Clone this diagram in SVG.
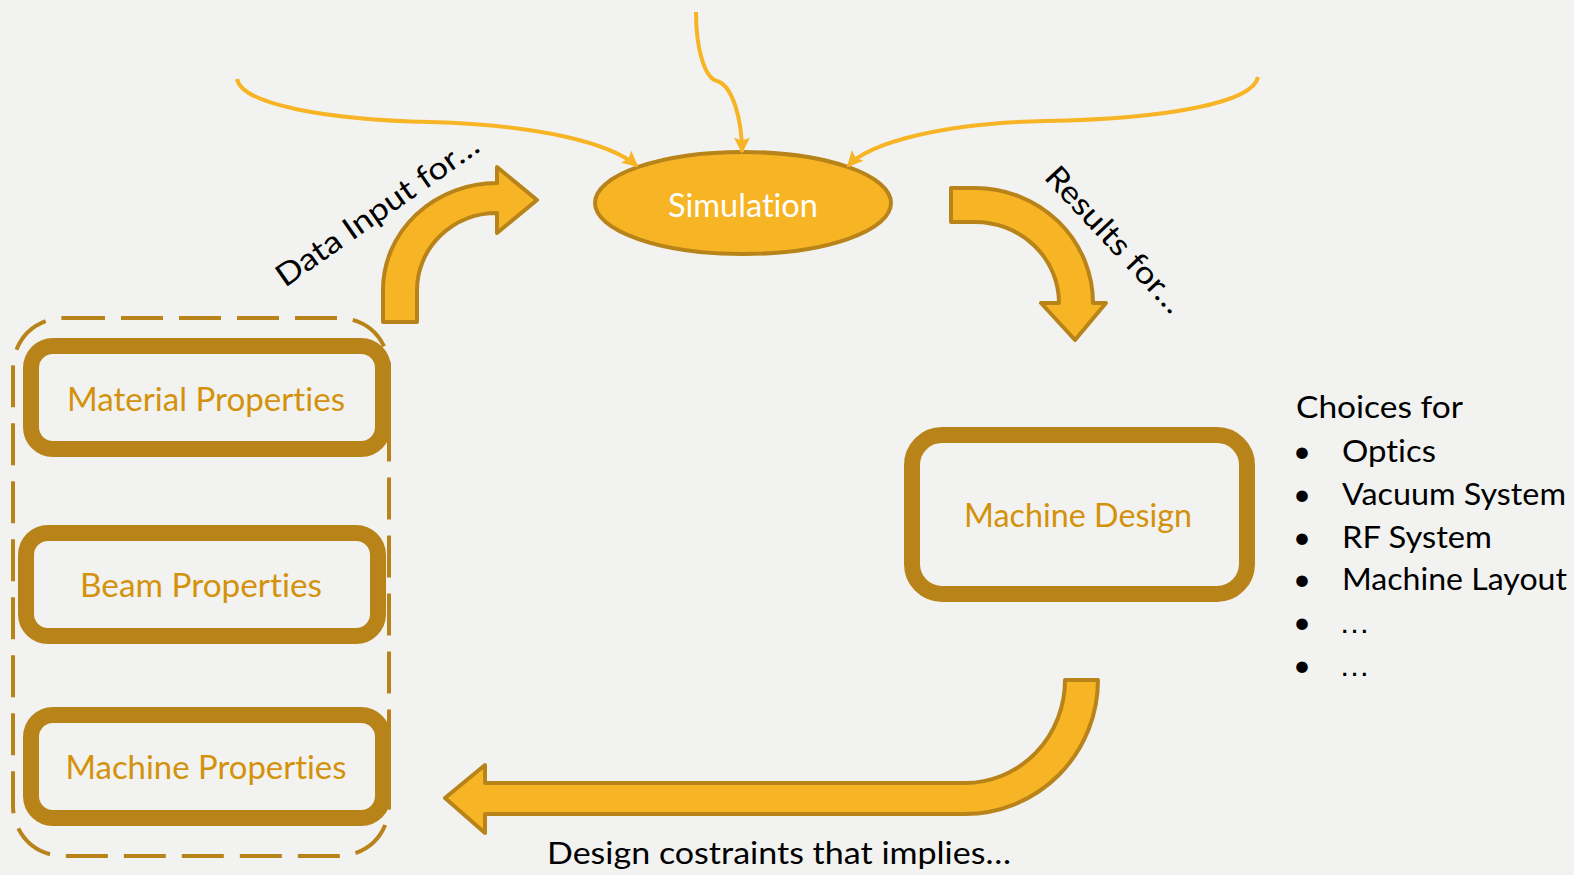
<svg xmlns="http://www.w3.org/2000/svg" width="1574" height="875" viewBox="0 0 1574 875">
<defs>
<style>
text{font-variant-ligatures:none}
.bg{fill:#F2F2F0}
.box{fill:none;stroke:#B8841A;stroke-width:16}
.lbl{font-family:Lato,"Liberation Sans",sans-serif;font-size:32px;fill:#D4920C;text-anchor:middle}
.txt{font-family:Lato,"Liberation Sans",sans-serif;font-size:31px;fill:#000}
.ell{font-family:"Liberation Sans",sans-serif}
.big{fill:#F7B425;stroke:#B8841A;stroke-width:4;stroke-linejoin:round}
.thin{fill:none;stroke:#F7B425;stroke-width:4}
</style>
<marker id="ah" viewBox="0 0 10 10" refX="9" refY="5" markerWidth="16" markerHeight="16" markerUnits="userSpaceOnUse" orient="auto">
<path d="M0,0 L10,5 L0,10 L2,5 Z" fill="#F7B425"/>
</marker>
</defs>
<rect class="bg" x="0" y="0" width="1574" height="875"/>

<g id="group-container">
<rect x="13" y="318" width="376" height="538" rx="50" ry="50" fill="none" stroke="#B8841A" stroke-width="4" stroke-dasharray="42 16"/>
</g>

<g id="node-material">
<rect class="box" x="31" y="346" width="352" height="103" rx="22"/>
<text class="lbl" x="206" y="411" textLength="278" lengthAdjust="spacingAndGlyphs">Material Properties</text>
</g>
<g id="node-beam">
<rect class="box" x="26" y="533" width="352" height="103" rx="22"/>
<text class="lbl" x="201" y="597" textLength="242" lengthAdjust="spacingAndGlyphs">Beam Properties</text>
</g>
<g id="node-machine-props">
<rect class="box" x="31" y="715" width="352" height="103" rx="22"/>
<text class="lbl" x="206" y="779" textLength="281" lengthAdjust="spacingAndGlyphs">Machine Properties</text>
</g>
<g id="node-machine-design">
<rect class="box" x="912" y="435" width="335" height="159" rx="30"/>
<text class="lbl" x="1078" y="527" textLength="228" lengthAdjust="spacingAndGlyphs">Machine Design</text>
</g>
<g id="node-simulation">
<ellipse cx="743" cy="203" rx="148" ry="51" fill="#F7B425" stroke="#B8841A" stroke-width="4"/>
<text x="743" y="217" font-family="Lato,'Liberation Sans',sans-serif" font-size="32" fill="#FFFFFF" text-anchor="middle" textLength="150" lengthAdjust="spacingAndGlyphs">Simulation</text>
</g>

<g id="connectors">
<path class="thin" d="M237,79 C242,105 330,120 430,122 C540,125 610,143 637,166" marker-end="url(#ah)"/>
<path class="thin" d="M696,12 C696,50 705,78 717,81 C733,86 742,120 742,152" marker-end="url(#ah)"/>
<path class="thin" d="M1258,77 C1253,103 1165,119 1045,121 C945,123 870,142 848,166" marker-end="url(#ah)"/>
<path class="big" d="M383,322 L383,290 A114,107 0 0 1 497,183 L497,167 L537,200 L497,233 L497,213 A80,77 0 0 0 417,290 L417,322 Z"/>
<path class="big" d="M951,188 L975,188 A118,115 0 0 1 1093,303 L1106,303 L1075,340 L1041,303 L1059,303 A84,81 0 0 0 975,222 L951,222 Z"/>
<path class="big" d="M1098,680 A133,134 0 0 1 965,814 L485,814 L485,833 L445,798 L485,765 L485,783 L965,783 A100,103 0 0 0 1065,680 Z"/>
<text class="txt" transform="translate(285,288) rotate(-35)" textLength="240" lengthAdjust="spacingAndGlyphs">Data Input for…</text>
<text class="txt" transform="translate(1043,178) rotate(47)" textLength="188" lengthAdjust="spacingAndGlyphs">Results for…</text>
<text class="txt" x="547" y="864" textLength="464" lengthAdjust="spacingAndGlyphs">Design costraints that implies…</text>
</g>

<g id="choices" class="txt">
<text x="1296" y="418" textLength="167" lengthAdjust="spacingAndGlyphs">Choices for</text>
<text x="1293" y="462">•</text>
<text x="1293" y="505">•</text>
<text x="1293" y="548">•</text>
<text x="1293" y="590">•</text>
<text x="1293" y="633">•</text>
<text x="1293" y="676">•</text>
<text x="1342" y="462" textLength="94" lengthAdjust="spacingAndGlyphs">Optics</text>
<text x="1342" y="505" textLength="224" lengthAdjust="spacingAndGlyphs">Vacuum System</text>
<text x="1342" y="548" textLength="150" lengthAdjust="spacingAndGlyphs">RF System</text>
<text x="1342" y="590" textLength="225" lengthAdjust="spacingAndGlyphs">Machine Layout</text>
<text class="ell" x="1339" y="633">…</text>
<text class="ell" x="1339" y="676">…</text>
</g>
</svg>
